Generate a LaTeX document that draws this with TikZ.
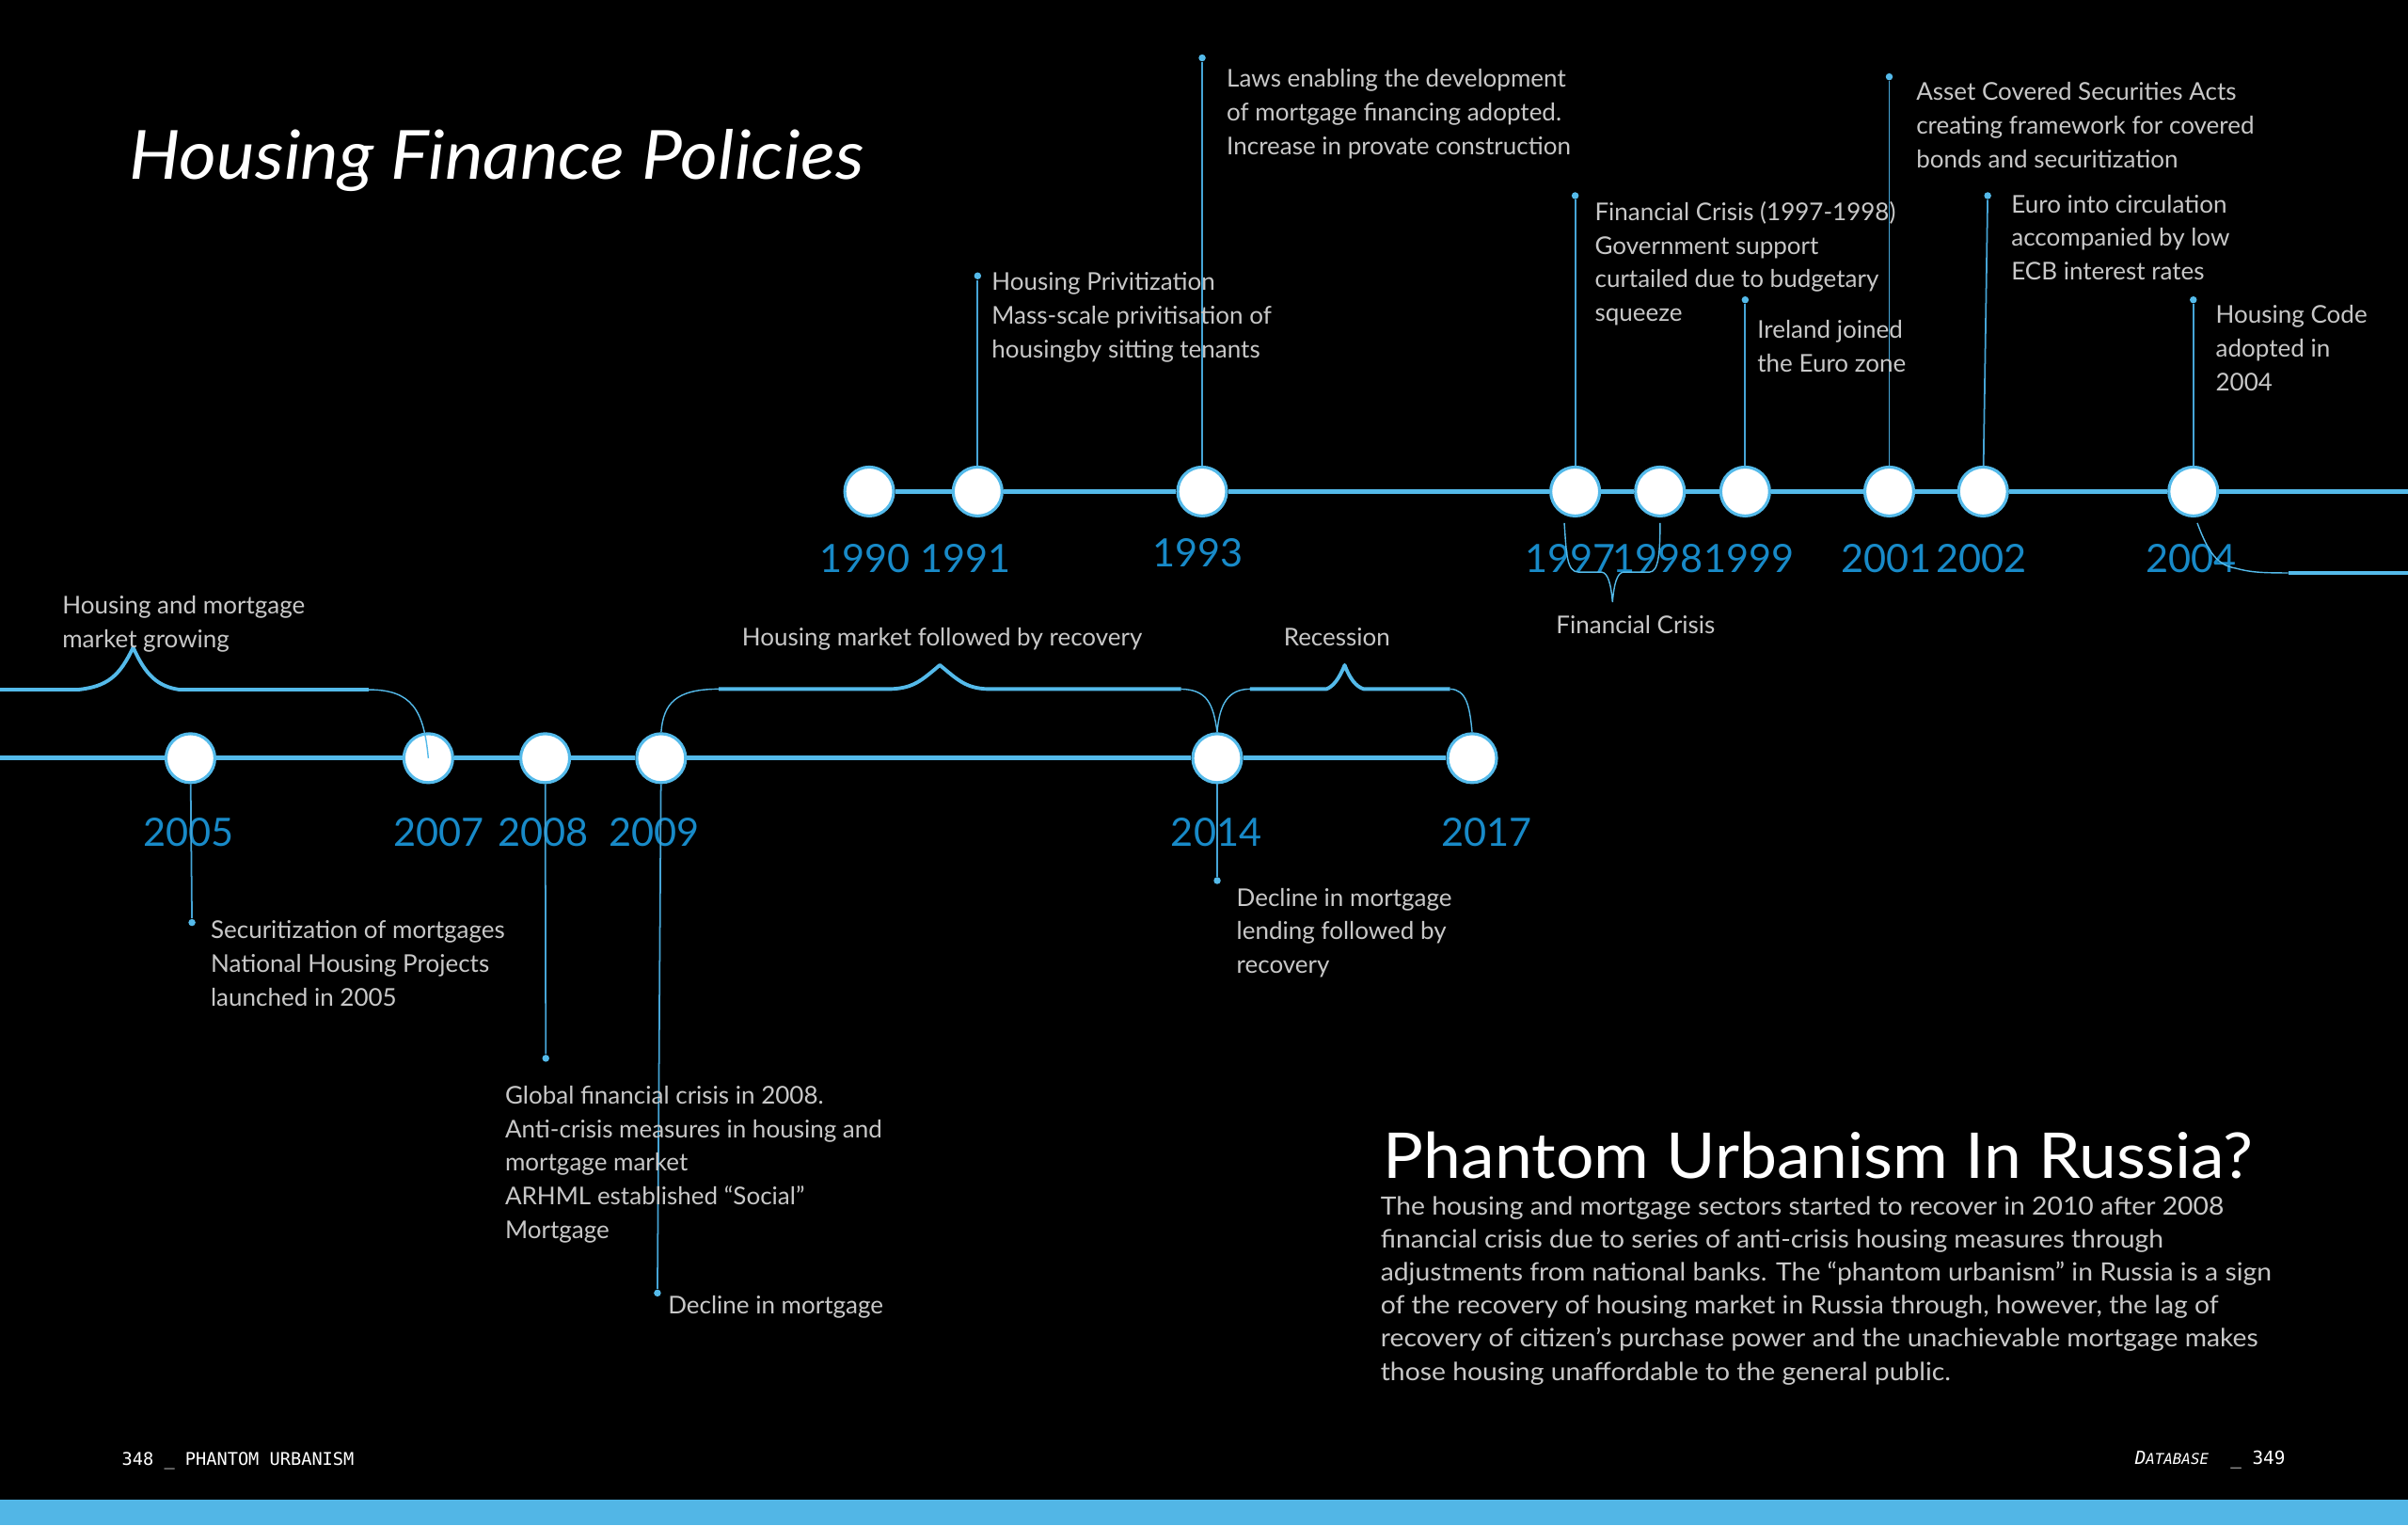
\documentclass[tikz,border=0pt]{standalone}
\usepackage{fontspec}
\setmainfont{Lato}
\newfontfamily\monofont{DejaVu Sans Mono}
\newfontfamily\titlefont[FakeStretch = 1.065]{Lato}
\newfontfamily\bodyfont[FakeStretch = 1.06]{Lato}
\definecolor{tlblue}{RGB}{84,186,234}
\definecolor{yrblue}{RGB}{24,138,200}
\definecolor{stemblue}{RGB}{70,165,215}
\definecolor{notegray}{RGB}{200,200,200}
\definecolor{bandblue}{RGB}{82,182,230}
\tikzset{
  yr/.style = {circle, draw = tlblue, fill = white, line width = 0.9pt, minimum size = 0.52cm, inner sep = 0pt},
  pindot/.style = {circle, fill = tlblue, inner sep = 0pt, minimum size = 0.075cm},
  stemline/.style = {draw = stemblue, line width = 0.5pt},
  tl/.style = {draw = tlblue, line width = 1.4pt},
  year/.style = {text = yrblue, font = \fontsize{11.8}{12}\selectfont, inner sep = 0pt},
  note/.style = {text = notegray, font = \fontsize{7.4}{10.2}\selectfont, align = left, anchor = north west, inner sep = 0pt},
  bracethin/.style = {draw = tlblue, line width = 0.4pt},
  bracemid/.style = {draw = tlblue, line width = 1.1pt, line join = round}
}
\begin{document}
\begin{tikzpicture} [x = 0.016327cm, y = -0.016327cm]
    \fill [black] (0,0) rectangle (1568,993);
    \useasboundingbox (0,0) rectangle (1568,993);
    \fill [bandblue] (0,976.3) rectangle (1568,993);
    \node [anchor = base west, inner sep = 0pt, text = white, font = \titlefont\fontsize{20.5}{22}\selectfont\itshape] (title) at (83.8,116.8) {Housing Finance Policies};
    \node [anchor = base west, inner sep = 0pt, text = white, font = \titlefont\fontsize{19.1}{22}\selectfont] (rtitle) at (900.5,767.3) {Phantom Urbanism In Russia?};
    \node [note, font = \bodyfont\fontsize{7.6}{10}\selectfont] (para) at (898.6,778.5) {The housing and mortgage sectors started to recover in 2010 after 2008\\financial crisis  due to  series of anti-crisis housing measures through\\adjustments from national banks. The “phantom urbanism” in Russia is a sign\\of the recovery of housing market in Russia through,  however, the lag of\\recovery of citizen’s purchase power  and the unachievable mortgage makes\\those housing unaffordable to the general public.};
    \node [anchor = base west, inner sep = 0pt, text = white, font = \monofont\fontsize{5.3}{6}\selectfont] (lfoot) at (79,953.8) {348 \_ PHANTOM URBANISM};
    \node [anchor = base east, inner sep = 0pt, text = white, font = \monofont\fontsize{5.5}{6}\selectfont] (rfoot) at (1488.5,953.6) {{\itshape D\fontsize{4.5}{5}\selectfont ATABASE}\ \ \_\ 349};

    \node [yr] (y1990) at (566,320) {};
    \node [yr] (y1991) at (636.6,320) {};
    \node [yr] (y1993) at (782.8,320) {};
    \node [yr] (y1997) at (1025.7,320) {};
    \node [yr] (y1998) at (1080.9,320) {};
    \node [yr] (y1999) at (1136.4,320) {};
    \node [yr] (y2001) at (1230.2,320) {};
    \node [yr] (y2002) at (1291.3,320) {};
    \node [yr] (y2004) at (1428.2,320) {};
    \coordinate (rend) at (1568,320);
    \draw [tl] (y1990) -- (y1991) -- (y1993) -- (y1997) -- (y1998) -- (y1999) -- (y2001) -- (y2002) -- (y2004) -- (rend);

    \node [year] (t1990) at (563.2,363.8) {1990};
    \node [year] (t1991) at (628.5,363.8) {1991};
    \node [year] (t1993) at (779.9,360) {1993};
    \node [year] (t1997) at (1022.7,363.8) {1997};
    \node [year] (t1998) at (1079.7,363.8) {1998};
    \node [year] (t1999) at (1139.2,363.8) {1999};
    \node [year] (t2001) at (1228.4,363.8) {2001};
    \node [year] (t2002) at (1290.2,363.8) {2002};
    \node [year] (t2004) at (1426.7,363.8) {2004};

    \node [pindot] (d1991) at (636.6,179.6) {};
    \node [pindot] (d1993) at (782.8,37.7) {};
    \node [pindot] (d1997) at (1025.7,127.4) {};
    \node [pindot] (d1999) at (1136.4,195.2) {};
    \node [pindot] (d2001) at (1230.2,50) {};
    \node [pindot] (d2002) at (1294.3,127.4) {};
    \node [pindot] (d2004) at (1428.2,195.2) {};
    \draw [stemline] (y1991) -- (d1991);
    \draw [stemline] (y1993) -- (d1993);
    \draw [stemline] (y1997) -- (d1997);
    \draw [stemline] (y1999) -- (d1999);
    \draw [stemline] (y2001) -- (d2001);
    \draw [stemline] (y2002) -- (d2002);
    \draw [stemline] (y2004) -- (d2004);

    \node [note] (n1991) at (645.4,177) {Housing Privitization\\Mass-scale privitisation of\\housingby sitting tenants};
    \node [note] (n1993) at (798.4,44.6) {Laws enabling the development\\of mortgage financing adopted.\\Increase in provate construction};
    \node [note] (n1997) at (1038.1,130.7) {Financial Crisis (1997-1998)\\Government support\\curtailed due to budgetary\\squeeze};
    \node [note] (n1999) at (1143.9,208.3) {Ireland joined\\the Euro zone};
    \node [note] (n2001) at (1247.4,53.3) {Asset Covered Securities Acts\\creating framework for covered\\bonds and securitization};
    \node [note] (n2002) at (1309.3,126.3) {Euro into circulation\\accompanied by low\\ECB interest rates};
    \node [note] (n2004) at (1442.4,198.2) {Housing Code\\adopted in\\2004};

    \draw [bracethin] (1018.6,340.5) .. controls (1020,360) and (1020,372.5) .. (1028,372.5) -- (1043,372.5) .. controls (1047,373) and (1049,380) .. (1050,392) .. controls (1051,380) and (1053,373) .. (1057,372.5) -- (1074,372.5) .. controls (1080,372.5) and (1081,360) .. (1081,340.5);
    \node [note] (fcrisis) at (1012.9,400.2) {Financial Crisis};
    \coordinate (bend) at (1568,373);
    \draw [bracethin] (1430.8,340.5) .. controls (1438,360) and (1444,368) .. (1456,370) .. controls (1465,372.5) and (1472,373) .. (1490,373);
    \draw [bracemid] (1490,373) -- (bend);

    \node [yr] (y2005) at (124,493.6) {};
    \node [yr] (y2007) at (278.9,493.6) {};
    \node [yr] (y2008) at (355,493.6) {};
    \node [yr] (y2009) at (430.5,493.6) {};
    \node [yr] (y2014) at (792.6,493.6) {};
    \node [yr] (y2017) at (958.6,493.6) {};
    \coordinate (lstart) at (0,493.6);
    \draw [tl] (lstart) -- (y2005) -- (y2007) -- (y2008) -- (y2009) -- (y2014) -- (y2017);

    \node [year] (t2005) at (123,542) {2005};
    \node [year] (t2007) at (285.5,542) {2007};
    \node [year] (t2008) at (353.5,542) {2008};
    \node [year] (t2009) at (425.8,542) {2009};
    \node [year] (t2014) at (792,542) {2014};
    \node [year] (t2017) at (968,542) {2017};

    \node [pindot] (d2005) at (125,600.6) {};
    \node [pindot] (d2008) at (355.4,689) {};
    \node [pindot] (d2009) at (428.1,841.8) {};
    \node [pindot] (d2014) at (792.6,573.3) {};
    \draw [stemline] (y2005) -- (d2005);
    \draw [stemline] (y2008) -- (d2008);
    \draw [stemline] (y2009) -- (d2009);
    \draw [stemline] (y2014) -- (d2014);

    \node [note] (n2005) at (136.8,599) {Securitization of mortgages\\National Housing Projects\\launched in 2005};
    \node [note] (n2008) at (328.5,706.4) {Global financial crisis in 2008.\\Anti-crisis measures in housing and\\mortgage market\\ARHML established “Social”\\Mortgage};
    \node [note] (n2009) at (434.6,843.2) {Decline in mortgage};
    \node [note] (n2014) at (804.8,577.7) {Decline in mortgage\\lending followed by\\recovery};

    \coordinate (bstart) at (0,449);
    \draw [bracemid] (bstart) -- (50.8,449) .. controls (70,447) and (78,440) .. (86.7,421.5) .. controls (95,440) and (103,447) .. (117,449) -- (240,449);
    \draw [bracethin] (240,449) .. controls (268,449) and (276,462) .. (y2007.center);
    \node [note] (growing) at (40.2,387.8) {Housing and mortgage\\market growing};

    \draw [bracethin] (y2009.north) .. controls (432,458) and (440,448.6) .. (468,448.6);
    \draw [bracemid] (468,448.6) -- (580,448.6) .. controls (595,448) and (600,443) .. (612,433) .. controls (624,443) and (629,448) .. (643,448.6) -- (769,448.6);
    \draw [bracethin] (769,448.6) .. controls (786,449) and (790,458) .. (y2014.north);
    \node [note] (recovery) at (482.8,408.6) {Housing market followed by recovery};

    \draw [bracethin] (y2014.north) .. controls (794,458) and (800,448.6) .. (814,448.6);
    \draw [bracemid] (814,448.6) -- (863.7,448.6) .. controls (868,447) and (872,442) .. (875.6,433) .. controls (879,442) and (883,447) .. (888,448.6) -- (944.3,448.6);
    \draw [bracethin] (944.3,448.6) .. controls (955,449) and (957,460) .. (y2017.north);
    \node [note] (recession) at (835.5,408.6) {Recession};
  \end{tikzpicture}
\end{document}
